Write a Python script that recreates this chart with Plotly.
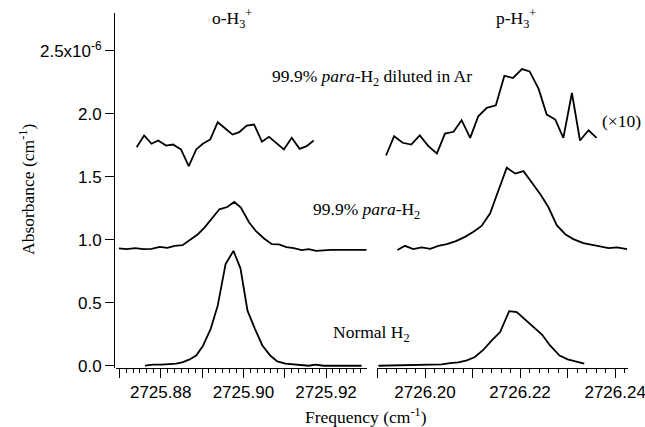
import plotly.graph_objects as go

# ---------------- data (absorbance in units of 1e-6 cm^-1) ----------------
# o-H3+ region
x_o_ar = [2725.8742, 2725.8760, 2725.8778, 2725.8794, 2725.8813, 2725.8830, 2725.8849,
          2725.8868, 2725.8886, 2725.8902, 2725.8920, 2725.8938, 2725.8957, 2725.8974,
          2725.8990, 2725.9008, 2725.9026, 2725.9045, 2725.9062, 2725.9080, 2725.9098,
          2725.9117, 2725.9136, 2725.9153, 2725.9170]
y_o_ar = [1.735, 1.828, 1.762, 1.788, 1.748, 1.756, 1.717, 1.585, 1.717, 1.762, 1.796,
          1.933, 1.881, 1.835, 1.854, 1.907, 1.915, 1.778, 1.817, 1.770, 1.717, 1.809,
          1.722, 1.743, 1.788]

x_o_para = [2725.8699, 2725.8718, 2725.8738, 2725.8759, 2725.8778, 2725.8798, 2725.8816,
            2725.8834, 2725.8853, 2725.8870, 2725.8890, 2725.8906, 2725.8925, 2725.8942,
            2725.8961, 2725.8978, 2725.8994, 2725.9014, 2725.9030, 2725.9050, 2725.9069,
            2725.9086, 2725.9104, 2725.9122, 2725.9141, 2725.9158, 2725.9176, 2725.9194,
            2725.9212, 2725.9230, 2725.9249, 2725.9268, 2725.9286, 2725.9298]
y_o_para = [0.931, 0.926, 0.934, 0.926, 0.928, 0.944, 0.936, 0.952, 0.957, 0.999, 1.044,
            1.097, 1.176, 1.242, 1.260, 1.300, 1.256, 1.137, 1.070, 1.010, 0.965, 0.963,
            0.941, 0.934, 0.918, 0.926, 0.912, 0.918, 0.920, 0.920, 0.920, 0.920, 0.920,
            0.920]

x_o_norm = [2725.8762, 2725.8782, 2725.8802, 2725.8822, 2725.8838, 2725.8854, 2725.8870,
            2725.8886, 2725.8902, 2725.8921, 2725.8938, 2725.8957, 2725.8976, 2725.8993,
            2725.9010, 2725.9028, 2725.9046, 2725.9065, 2725.9082, 2725.9102, 2725.9121,
            2725.9138, 2725.9158, 2725.9174, 2725.9194, 2725.9212, 2725.9231, 2725.9249,
            2725.9268, 2725.9286]
y_o_norm = [0.000, 0.008, 0.008, 0.010, 0.016, 0.029, 0.050, 0.081, 0.156, 0.293, 0.477,
            0.807, 0.912, 0.773, 0.437, 0.293, 0.161, 0.081, 0.034, 0.016, 0.010, 0.002,
            0.000, 0.008, 0.000, 0.000, 0.000, 0.000, 0.000, 0.000]

# p-H3+ region
x_p_ar = [2726.1918, 2726.1935, 2726.1953, 2726.1971, 2726.1989, 2726.2007, 2726.2025,
          2726.2042, 2726.2060, 2726.2077, 2726.2095, 2726.2112, 2726.2130, 2726.2149,
          2726.2167, 2726.2185, 2726.2204, 2726.2220, 2726.2239, 2726.2256, 2726.2274,
          2726.2291, 2726.2309, 2726.2326, 2726.2344, 2726.2361]
y_p_ar = [1.669, 1.822, 1.770, 1.756, 1.828, 1.743, 1.685, 1.843, 1.857, 1.949, 1.809,
          1.980, 2.047, 2.067, 2.302, 2.284, 2.355, 2.336, 2.197, 1.994, 1.954, 1.809,
          2.165, 1.788, 1.869, 1.809]

x_p_para = [2726.1942, 2726.1958, 2726.1975, 2726.1993, 2726.2011, 2726.2028, 2726.2046,
            2726.2065, 2726.2084, 2726.2102, 2726.2119, 2726.2137, 2726.2154, 2726.2172,
            2726.2190, 2726.2207, 2726.2225, 2726.2244, 2726.2260, 2726.2277, 2726.2295,
            2726.2312, 2726.2333, 2726.2351, 2726.2368, 2726.2386, 2726.2404, 2726.2425]
y_p_para = [0.918, 0.952, 0.926, 0.939, 0.928, 0.952, 0.965, 0.989, 1.023, 1.063, 1.110,
            1.210, 1.387, 1.572, 1.525, 1.545, 1.453, 1.353, 1.256, 1.116, 1.044, 1.005,
            0.973, 0.957, 0.947, 0.934, 0.939, 0.926]

x_p_norm = [2726.1902, 2726.1926, 2726.1947, 2726.1968, 2726.1996, 2726.2017, 2726.2035,
            2726.2053, 2726.2070, 2726.2088, 2726.2105, 2726.2123, 2726.2140, 2726.2158,
            2726.2177, 2726.2193, 2726.2211, 2726.2228, 2726.2246, 2726.2263, 2726.2283,
            2726.2300, 2726.2317, 2726.2335]
y_p_norm = [0.000, 0.002, 0.002, 0.006, 0.006, 0.010, 0.010, 0.021, 0.026, 0.042, 0.069,
            0.127, 0.200, 0.267, 0.433, 0.425, 0.366, 0.314, 0.248, 0.161, 0.081, 0.050,
            0.034, 0.016]

y_tick_vals = [0.0, 0.5, 1.0, 1.5, 2.0, 2.5]
y_tick_text = ["0.0", "0.5", "1.0", "1.5", "2.0", "2.5x10<sup>-6</sup>"]
xl_tick_vals = [2725.87, 2725.88, 2725.89, 2725.90, 2725.91, 2725.92, 2725.93]
xl_tick_text = ["", "2725.88", "", "2725.90", "", "2725.92", ""]
xr_tick_vals = [2726.19, 2726.20, 2726.21, 2726.22, 2726.23, 2726.24]
xr_tick_text = ["", "2726.20", "", "2726.22", "", "2726.24"]

# ---------------- figure ----------------
W, H = 645, 427
L, R, T, B = 114, 17, 13, 59
pw, ph = W - L - R, H - T - B

def px(xp):
    return (xp - L) / pw

def py(yp):
    return (H - B - yp) / ph

line = dict(color="black", width=1.8)
fig = go.Figure()
for xs, ys in [(x_o_ar, y_o_ar), (x_o_para, y_o_para), (x_o_norm, y_o_norm)]:
    fig.add_trace(go.Scatter(x=xs, y=ys, mode="lines", line=line, xaxis="x", yaxis="y",
                             hoverinfo="skip"))
for xs, ys in [(x_p_ar, y_p_ar), (x_p_para, y_p_para), (x_p_norm, y_p_norm)]:
    fig.add_trace(go.Scatter(x=xs, y=ys, mode="lines", line=line, xaxis="x2", yaxis="y",
                             hoverinfo="skip"))

tickfont = dict(family="Liberation Sans, Arial, sans-serif", size=17, color="black")
serif = dict(family="Liberation Serif, Times New Roman, serif", size=17.5, color="black")

xcommon = dict(showline=True, linecolor="black", linewidth=1, ticks="outside",
               ticklen=9, tickwidth=1, tickcolor="black", showgrid=False,
               zeroline=False, anchor="y", tickmode="array", tickfont=tickfont,
               automargin=False)

fig.update_layout(
    width=W, height=H, autosize=False, margin=dict(l=L, r=R, t=T, b=B, autoexpand=False),
    plot_bgcolor="white", paper_bgcolor="white", showlegend=False,
    xaxis=dict(domain=[px(116), px(367)], range=[2725.8692, 2725.9299],
               tickvals=xl_tick_vals, ticktext=xl_tick_text,
               minor=dict(tickmode="linear", tick0=2725.87, dtick=0.01 / 6, ticklen=4,
                          ticks="outside", tickcolor="black", tickwidth=1, showgrid=False),
               **xcommon),
    xaxis2=dict(domain=[px(377), 1.0], range=[2726.1899, 2726.2427],
                tickvals=xr_tick_vals, ticktext=xr_tick_text, ticklabeloverflow="allow",
                minor=dict(tickmode="linear", tick0=2726.19, dtick=0.002, ticklen=4,
                           ticks="outside", tickcolor="black", tickwidth=1, showgrid=False),
                **xcommon),
    yaxis=dict(domain=[0, 1], range=[-0.018, 2.8], anchor="free", position=0,
               showline=True, linecolor="black", linewidth=1, ticks="outside",
               ticklen=9, tickwidth=1, tickcolor="black", showgrid=False, zeroline=False,
               tickmode="array", tickvals=y_tick_vals, ticktext=y_tick_text,
               tickfont=tickfont, automargin=False),
)

def ann(text, xp, yp, angle=0):
    fig.add_annotation(text=text, xref="paper", yref="paper", x=px(xp), y=py(yp),
                       xanchor="center", yanchor="middle", showarrow=False,
                       font=serif, textangle=angle)

ann("o-H<sub>3</sub><sup>+</sup>", 232, 19)
ann("p-H<sub>3</sub><sup>+</sup>", 516, 19)
ann("99.9% <i>para</i>-H<sub>2</sub> diluted in Ar", 372, 77)
ann("(×10)", 621, 121)
ann("99.9% <i>para</i>-H<sub>2</sub>", 366, 211)
ann("Normal H<sub>2</sub>", 371, 333)
ann("Frequency (cm<sup>-1</sup>)", 366, 416)
ann("Absorbance (cm<sup>-1</sup>)", 27, 190, angle=-90)

fig.write_html(
    "out.html", config={"displayModeBar": False, "responsive": False},
    post_script=("document.documentElement.style.overflow='hidden';"
                 "document.body.style.margin='0';document.body.style.overflow='hidden';"))
